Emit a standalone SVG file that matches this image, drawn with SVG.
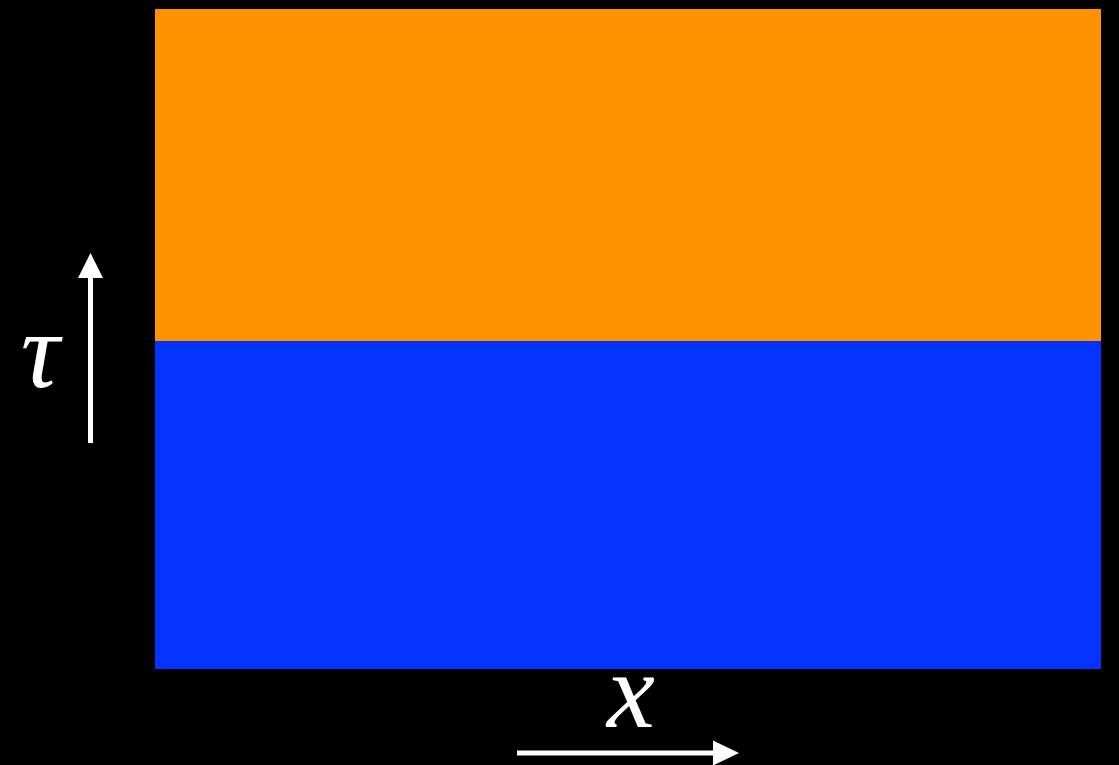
<svg xmlns="http://www.w3.org/2000/svg" width="1119" height="765" viewBox="0 0 1119 765">
<style>
.lbl{font-family:"Liberation Serif","Times New Roman",serif;font-style:italic;fill:#fff;font-size:108px}
.ax{stroke:#fff;stroke-width:5;fill:none}
.hd{fill:#fff}
</style>
<rect x="0" y="0" width="1119" height="765" fill="#000"/>
<g id="orange-region"><rect x="155" y="9" width="946" height="332" fill="#ff9200"/></g>
<g id="blue-region"><rect x="155" y="341" width="946" height="328" fill="#0433ff"/></g>
<g id="connectors">
<line class="ax" x1="90.5" y1="443" x2="90.5" y2="276"/>
<polygon class="hd" points="90.5,253 103,278 78,278"/>
<line class="ax" x1="517" y1="753" x2="715" y2="753"/>
<polygon class="hd" points="739,753 713,740.5 713,765.5"/>
</g>
<g id="tau-label"><text class="lbl" x="40" y="387" text-anchor="middle">τ</text></g>
<g id="x-label"><text class="lbl" x="631" y="727" text-anchor="middle">x</text></g>
</svg>
